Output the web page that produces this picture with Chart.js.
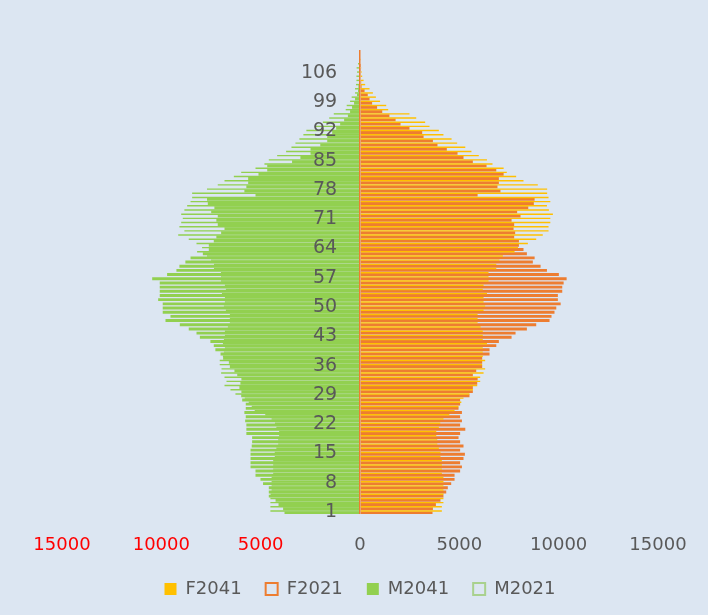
<!DOCTYPE html>
<html>
<head>
<meta charset="utf-8">
<title>Population pyramid 2021 / 2041</title>
<script src="https://cdn.jsdelivr.net/npm/chart.js@4.4.1/dist/chart.umd.min.js"></script>
<style>
  html, body { margin: 0; padding: 0; background: #dce6f2; }
  #wrap { width: 708px; height: 615px; }
</style>
</head>
<body>
<div id="wrap"><canvas id="pyramid" width="708" height="615"></canvas></div>
<script>
// ── Data (single years of age 1..111) ─────────────────────────
const AGES = Array.from({ length: 111 }, (_, i) => String(i + 1));

const F2041 = [
  4120, 4120, 4200, 4200, 4200, 4200, 4200, 4200, 4200, 4120,
  4120, 4120, 4120, 4050, 4050, 3970, 3890, 3890, 3840, 3840,
  3970, 4040, 4200, 4500, 4760, 4960, 5100, 5210, 5510, 5680,
  5900, 6050, 6050, 6220, 6300, 6150, 6300, 6180, 6180, 6180,
  6390, 6180, 6180, 6180, 6070, 5920, 5920, 5920, 6220, 6300,
  6220, 6220, 6390, 6180, 6220, 6470, 6470, 6470, 6860, 6860,
  7020, 7190, 7780, 7950, 8450, 8870, 9200, 9490, 9490, 9580,
  9580, 9710, 9510, 9410, 9580, 9490, 9420, 9420, 8950, 8230,
  7860, 7390, 7230, 6670, 6390, 5980, 5610, 5300, 4890, 4610,
  4200, 3970, 3500, 3280, 2830, 2490, 1420, 1320, 1010, 800,
  650, 480, 260, 180, 110, 80, 60, 40, 20, 0,
  0
];

const F2021 = [
  3650, 3670, 3820, 4050, 4200, 4340, 4420, 4590, 4760, 4760,
  5040, 5130, 5040, 5210, 5280, 5040, 5210, 5040, 4960, 5040,
  5300, 5040, 5130, 5040, 5130, 4960, 5040, 5040, 5510, 5680,
  5680, 5900, 5920, 5680, 5850, 6150, 6150, 6150, 6520, 6520,
  6860, 6990, 7630, 7830, 8400, 8870, 9540, 9640, 9790, 9880,
  10100, 9960, 9960, 10180, 10180, 10250, 10400, 10010, 9410, 9090,
  8700, 8790, 8400, 8230, 8000, 8000, 7760, 7810, 7730, 7760,
  7630, 8080, 7910, 8470, 8750, 8790, 5920, 7070, 6920, 6990,
  6990, 7230, 6860, 6370, 5680, 5210, 4910, 4370, 3900, 3670,
  3200, 3130, 2490, 2040, 1790, 1480, 1120, 860, 610, 480,
  390, 230, 80, 60, 40, 30, 20, 10, 0, 0,
  0
];

const M2041 = [
  4510, 4510, 4510, 4510, 4500, 4450, 4450, 4450, 4450, 4370,
  4370, 4370, 4370, 4290, 4290, 4210, 4120, 4120, 4070, 4070,
  4210, 4280, 4450, 4770, 5300, 5450, 5600, 5800, 6270, 6520,
  6820, 6720, 6820, 6990, 6970, 7060, 7060, 6900, 6850, 6800,
  6900, 6850, 6800, 6800, 6650, 6550, 6550, 6550, 6750, 6850,
  6800, 6800, 6950, 6750, 6800, 7000, 7000, 7000, 7350, 7350,
  7500, 7700, 8200, 7950, 8230, 8620, 9150, 8840, 9090, 9000,
  8920, 9000, 8840, 8700, 8530, 8450, 8450, 7700, 7160, 6820,
  6350, 5980, 5260, 4810, 4590, 4170, 3720, 3450, 3250, 3050,
  2850, 2700, 2250, 1870, 1550, 1320, 720, 670, 500, 420,
  250, 250, 200, 180, 180, 150, 170, 100, 50, 20,
  0
];

const M2021 = [
  3800, 3870, 4100, 4250, 4590, 4590, 4590, 4880, 5010, 5260,
  5260, 5510, 5510, 5510, 5510, 5510, 5450, 5430, 5430, 5720,
  5720, 5720, 5780, 5750, 5820, 5750, 5750, 5930, 5980, 5970,
  6070, 6020, 5970, 6180, 6320, 6550, 6600, 6890, 7020, 7280,
  7360, 7530, 8060, 8230, 8620, 9070, 9790, 9540, 9930, 9930,
  9930, 10160, 10080, 10080, 10080, 10080, 10460, 9710, 9240, 9090,
  8790, 8530, 7910, 7610, 7610, 7360, 7230, 6990, 6820, 7160,
  7230, 7160, 7490, 7330, 7660, 7700, 5260, 5820, 5720, 5630,
  5630, 5110, 4670, 4670, 3420, 3000, 2490, 2490, 2000, 1650,
  1650, 1400, 1200, 1000, 800, 610, 500, 400, 300, 250,
  150, 100, 80, 50, 30, 20, 10, 0, 0, 0,
  0
];

const X_MIN = -15000;
const X_MAX = 15000;
const X_STEP = 5000;
const LABEL_EVERY = 7;

// ── Styles ───────────────────────────────────────────────────
const FONT = "'DejaVu Sans', Verdana, sans-serif";
const TEXT = '#595959';
const HOLLOW = { F2021: '#ed7d31', M2021: '#a9d18e' };
const AGE_LABEL_AT = -1150;   // age labels sit just left of the zero line

// ── Chart ────────────────────────────────────────────────────
new Chart(document.getElementById('pyramid'), {
  type: 'bar',
  data: {
    labels: AGES,
    datasets: [
      { label: 'F2041', data: F2041, backgroundColor: '#ffc000', stack: 'y2041', barPercentage: 0.75 },
      { label: 'F2021', data: F2021, backgroundColor: '#ed7d31', stack: 'y2021', barPercentage: 1.55 },
      { label: 'M2041', data: M2041.map(v => -v), backgroundColor: '#92d050', stack: 'y2041', barPercentage: 0.75 },
      { label: 'M2021', data: M2021.map(v => -v), backgroundColor: '#92d050', stack: 'y2021', barPercentage: 1.55 }
    ]
  },
  options: {
    indexAxis: 'y',
    responsive: false,
    animation: false,
    datasets: { bar: { categoryPercentage: 0.9, borderWidth: 0 } },
    layout: { padding: { left: 62, right: 50, top: 50, bottom: 7 } },
    scales: {
      x: {
        min: X_MIN,
        max: X_MAX,
        afterFit: scale => { scale.height = 42; },
        grid: {
          z: 1,
          drawTicks: false,
          lineWidth: 1.5,
          color: ctx => ctx.tick && ctx.tick.value === 0 ? '#ed7d31' : 'rgba(0,0,0,0)'
        },
        border: { display: false },
        ticks: {
          stepSize: X_STEP,
          maxRotation: 0,
          padding: 21,
          font: { family: FONT, size: 18 },
          color: ctx => ctx.tick.value < 0 ? '#ff0000' : TEXT,
          callback: v => String(Math.abs(v))
        }
      },
      y: {
        position: { x: AGE_LABEL_AT },
        reverse: true,
        grid: { display: false, drawTicks: false },
        border: { display: false },
        ticks: {
          z: 1,
          autoSkip: false,
          font: { family: FONT, size: 19 },
          color: TEXT,
          callback: function (v, i) { return i % LABEL_EVERY === 0 ? this.getLabelForValue(v) : ''; }
        }
      }
    },
    plugins: {
      tooltip: { enabled: false },
      legend: {
        position: 'bottom',
        labels: {
          boxWidth: 12,
          boxHeight: 12,
          padding: 24,
          color: TEXT,
          font: { family: FONT, size: 18 },
          generateLabels(chart) {
            const items = Chart.defaults.plugins.legend.labels.generateLabels(chart);
            items.forEach(item => {
              const edge = HOLLOW[item.text];
              if (edge) {
                item.fillStyle = 'rgba(0,0,0,0)';
                item.strokeStyle = edge;
                item.lineWidth = 2;
              }
            });
            return items;
          }
        }
      }
    }
  }
});
</script>
</body>
</html>
